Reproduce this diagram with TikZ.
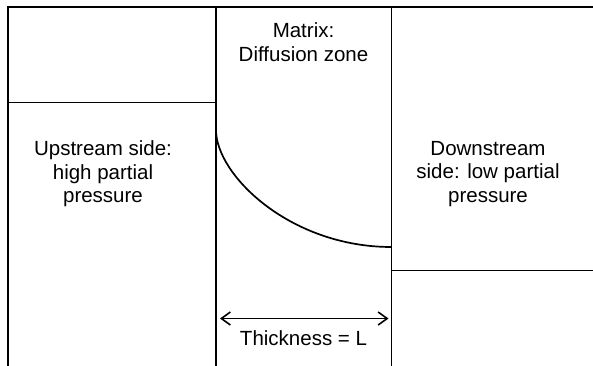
\documentclass[tikz,border=0pt]{standalone}
\usepackage{fontspec}
\setmainfont{Liberation Sans}
\usetikzlibrary{arrows.meta}
\begin{document}
\begin{tikzpicture}[x=1pt,y=-1pt,
  wall/.style={line width=1.9pt, line cap=rect},
  lbl/.style={align=center, font=\fontsize{20.5}{23.5}\selectfont, inner sep=0pt},
  dim/.style={line width=1.6pt, {Straight Barb[length=9pt,width=13pt]}-{Straight Barb[length=9pt,width=13pt]}}]
\useasboundingbox (0,0) rectangle (593,365);
% coordinates
\coordinate (tl) at (8,7);
\coordinate (tr) at (593,7);
\coordinate (bl) at (8,365);
\coordinate (m1t) at (216,7);
\coordinate (m1b) at (216,365);
\coordinate (m2t) at (391.5,7);
\coordinate (m2b) at (391.5,365);
\coordinate (uh1) at (8,102.5);
\coordinate (uh2) at (216,102.5);
\coordinate (dh1) at (391.5,270.5);
\coordinate (dh2) at (593,270.5);
\coordinate (cs) at (216,130);
\coordinate (ce) at (391.5,247);
\coordinate (a1) at (220,318.5);
\coordinate (a2) at (388.5,318.5);
% walls
\draw[wall] (tl) -- (tr);
\draw[wall] (tl) -- (bl);
\draw[wall] (m1t) -- (m1b);
\draw[wall] (m2t) -- (m2b);
\draw[wall] (uh1) -- (uh2);
\draw[wall] (dh1) -- (dh2);
% concentration profile
\draw[line width=1.7pt] (cs) .. controls (216,175) and (290,247) .. (ce);
% thickness arrow
\draw[dim] (a1) -- (a2);
% labels
\node[lbl] (matrix) at (303.5,42) {Matrix:\\Diffusion zone};
\node[lbl] (up) at (103,174) {Upstream side:\\high partial\\pressure};
\node[lbl] (down) at (488,174) {Downstream\\side: low partial\\pressure};
\node[lbl, anchor=base] (thick) at (303.5,345.5) {Thickness = L};
\end{tikzpicture}
\end{document}
